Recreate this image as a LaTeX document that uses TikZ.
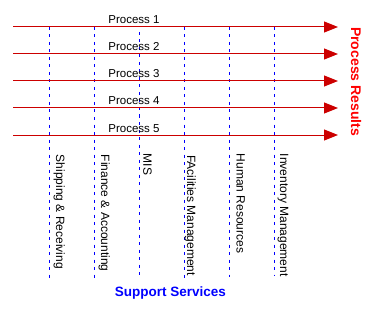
\documentclass[tikz,border=0pt]{standalone}
\usepackage{fontspec}
\setmainfont{Liberation Sans}
\usetikzlibrary{arrows.meta}
\definecolor{procred}{HTML}{CC0000}
\definecolor{resred}{HTML}{FF0000}
\definecolor{supblue}{HTML}{0000FF}
\begin{document}
\begin{tikzpicture}[x=1pt,y=-1pt,
  procline/.style={draw=procred,line width=1pt,-{Triangle[length=14pt,width=11pt]},fill=procred},
  supline/.style={draw=supblue,line width=1pt,dash pattern=on 3pt off 4.5pt},
  proclabel/.style={inner sep=0pt,anchor=base,font=\fontsize{11.5}{13}\selectfont},
  suplabel/.style={inner sep=0pt,anchor=base west,rotate=-90,font=\fontsize{12}{14}\selectfont},
  titlelabel/.style={inner sep=0pt,font=\fontsize{13.5}{16}\selectfont\bfseries}]
\useasboundingbox (0,0) rectangle (377,318);
% vertical dashed support lines
\foreach \n/\x/\t/\b in {1/49.3/27/279,2/94.3/27/279,3/139.3/32/276,4/184/27/279,5/229.3/27/277,6/274.3/27/275}{
  \coordinate (vt\n) at (\x,\t);
  \coordinate (vb\n) at (\x,\b);
  \draw[supline] (vt\n) -- (vb\n);
}
% horizontal process lines
\foreach \n/\y in {1/27,2/54,3/81,4/108,5/135}{
  \coordinate (ps\n) at (13,\y);
  \coordinate (pe\n) at (338,\y);
  \draw[procline] (ps\n) -- (pe\n);
  \node[proclabel] (pl\n) at (134,\y-3) {Process \n};
}
% support service labels
\node[suplabel] (s1) at (56,154.5) {Shipping \& Receiving};
\node[suplabel] (s2) at (101,154.5) {Finance \& Accounting};
\node[suplabel] (s3) at (143.3,153.5) {MIS};
\node[suplabel] (s4) at (187,155) {FAcilities Management};
\node[suplabel] (s5) at (236.7,153.5) {Human Resources};
\node[suplabel] (s6) at (280,153.5) {Inventory Management};
% titles
\node[titlelabel,text=resred,anchor=base west,rotate=-90,font=\fontsize{14}{16}\selectfont\bfseries] (res) at (351,27) {Process Results};
\node[titlelabel,text=supblue,anchor=base] (sup) at (170.3,296.5) {Support Services};
\end{tikzpicture}
\end{document}
